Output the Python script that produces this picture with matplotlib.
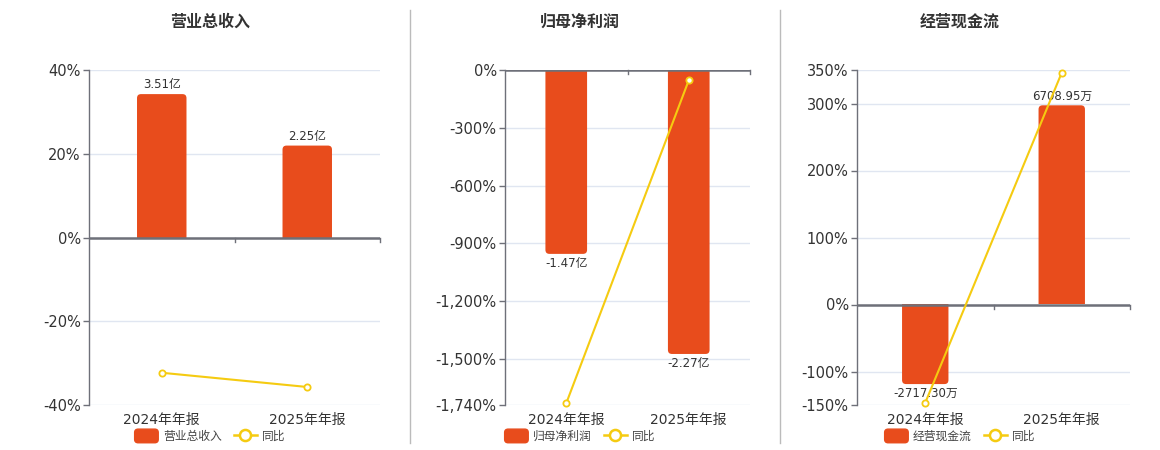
import matplotlib
matplotlib.use("Agg")
import matplotlib.pyplot as plt
import matplotlib.transforms as mtransforms
from matplotlib.lines import Line2D
from matplotlib.patches import Patch, FancyBboxPatch, Rectangle
from matplotlib.legend_handler import HandlerPatch

### Data
periods = ["2024年年报", "2025年年报"]

# 营业总收入 (亿) and YoY (%)
revenue = [3.51, 2.25]
revenue_yoy = [-32.3, -35.7]

# 归母净利润 (亿) and YoY (%)
profit = [-1.47, -2.27]
profit_yoy = [-1731, -53.6]

# 经营现金流 (万) and YoY (%)
cashflow = [-2717.30, 6708.95]
cashflow_yoy = [-146.7, 346]

### Style
BAR_COLOR = "#E84C1C"
LINE_COLOR = "#F5CB11"
GRID_COLOR = "#E0E6F1"
AXIS_COLOR = "#6E7079"
TEXT_COLOR = "#333333"

plt.rcParams["font.family"] = ["DejaVu Sans", "Noto Sans CJK SC"]

fig = plt.figure(figsize=(11.6, 4.5), dpi=100)
W, H = 1160, 450
AX_H = 335
RADIUS_PX = 4


def round_patch(legend, orig_handle, xdescent, ydescent, width, height, fontsize):
    # rounded legend swatch
    return FancyBboxPatch((-xdescent, -ydescent), width, height,
                          boxstyle="round,pad=0,rounding_size=2.5")


def rounded_bars(axb, bars, x_range, y_range, width_px):
    # replace plain bars by ones with rounded far-end corners
    xupp = x_range / width_px
    yupp = y_range / AX_H
    r_y = RADIUS_PX * yupp
    for b in bars:
        bx, bw, bh = b.get_x(), b.get_width(), b.get_height()
        b.set_visible(False)
        if bh >= 0:
            y0, h = -r_y * 2, bh + r_y * 2
            clip = Rectangle((bx - bw, 0), bw * 3, y_range, transform=axb.transData)
        else:
            y0, h = bh, -bh + r_y * 2
            clip = Rectangle((bx - bw, -y_range), bw * 3, y_range, transform=axb.transData)
        p = FancyBboxPatch((bx, y0), bw, h,
                           boxstyle="round,pad=0,rounding_size=%f" % (RADIUS_PX * xupp),
                           mutation_aspect=yupp / xupp,
                           facecolor=BAR_COLOR, edgecolor="none", zorder=2)
        axb.add_patch(p)
        p.set_clip_path(clip)


def panel(left_px, right_px, title, title_x, values, unit, yoy,
          pct_lim, pct_ticks, bar_lim):
    rect = [left_px / W, 1 - 405 / H, (right_px - left_px) / W, AX_H / H]
    ax = fig.add_axes(rect)
    x = list(range(len(periods)))

    # percentage axis (background: grid + ticks)
    ax.set_xlim(-0.5, len(periods) - 0.5)
    ax.set_ylim(*pct_lim)
    ax.set_yticks(pct_ticks)
    ax.set_yticklabels(["{:,.0f}%".format(t) for t in pct_ticks])
    ax.set_xticks(x)
    ax.set_xticklabels(periods)
    ax.tick_params(axis="x", length=0, pad=6, labelsize=10, labelcolor=TEXT_COLOR)
    ax.tick_params(axis="y", length=4, width=1, color=AXIS_COLOR, pad=2,
                   labelsize=10.5, labelcolor=TEXT_COLOR)
    for t in pct_ticks:
        ax.axhline(t, color=GRID_COLOR, lw=1, zorder=0)
    for s in ["top", "right", "bottom"]:
        ax.spines[s].set_visible(False)
    ax.spines["left"].set_color(AXIS_COLOR)
    ax.spines["left"].set_linewidth(1)

    # bars on their own scale
    axb = ax.twinx()
    axb.set_ylim(*bar_lim)
    axb.axis("off")
    bars = axb.bar(x, values, width=0.34, color=BAR_COLOR, zorder=2)
    labels = ["{:.2f}{}".format(v, unit) for v in values]
    axb.bar_label(bars, labels=labels, padding=2, fontsize=8.5, color=TEXT_COLOR)
    rounded_bars(axb, bars, len(periods), bar_lim[1] - bar_lim[0], right_px - left_px)

    # yoy line on top
    axl = ax.twinx()
    axl.set_ylim(*pct_lim)
    axl.axis("off")
    axl.axhline(0, color=AXIS_COLOR, lw=1.8, zorder=3)
    z0 = (0 - pct_lim[0]) / (pct_lim[1] - pct_lim[0])
    trans = mtransforms.blended_transform_factory(axl.transData, axl.transAxes)
    for xb in [0.5, len(periods) - 0.5]:
        axl.plot([xb, xb], [z0, z0 - 0.013], transform=trans, color=AXIS_COLOR,
                 lw=1, clip_on=False)
    axl.plot(x, yoy, color=LINE_COLOR, lw=1.5, marker="o", ms=4.5,
             markerfacecolor="white", markeredgecolor=LINE_COLOR,
             markeredgewidth=1.3, zorder=4, clip_on=False)

    fig.text(title_x / W, 1 - 22 / H, title, ha="center", va="center",
             fontsize=11.5, fontweight="bold", color=TEXT_COLOR)

    handles = [
        Patch(facecolor=BAR_COLOR, edgecolor=BAR_COLOR, label=title),
        Line2D([0], [0], color=LINE_COLOR, lw=1.8, marker="o", ms=8,
               markerfacecolor="white", markeredgecolor=LINE_COLOR,
               markeredgewidth=1.8, label="同比"),
    ]
    fig.legend(handles=handles, loc="center", ncol=2, frameon=False,
               bbox_to_anchor=(title_x / W, 1 - 436 / H), fontsize=8.5,
               handlelength=2.0, handleheight=1.4, handletextpad=0.4,
               columnspacing=1.0, labelcolor="#444444",
               handler_map={Patch: HandlerPatch(patch_func=round_patch)})


panel(89, 380, "营业总收入", 210, revenue, "亿", revenue_yoy,
      (-40, 40), [-40, -20, 0, 20, 40], (-4.10, 4.10))
panel(505, 750, "归母净利润", 580, profit, "亿", profit_yoy,
      (-1740, 0), [-1740, -1500, -1200, -900, -600, -300, 0], (-2.678, 0))
panel(857, 1130, "经营现金流", 960, cashflow, "万", cashflow_yoy,
      (-150, 350), [-150, -100, 0, 100, 200, 300, 350], (-3425, 7903))

# vertical separators
for sx in [410, 780]:
    fig.add_artist(Line2D([sx / W, sx / W], [1 - 10 / H, 1 - 443 / H],
                          color="#BBBBBB", lw=1))

fig.savefig("out.png", dpi=100)
